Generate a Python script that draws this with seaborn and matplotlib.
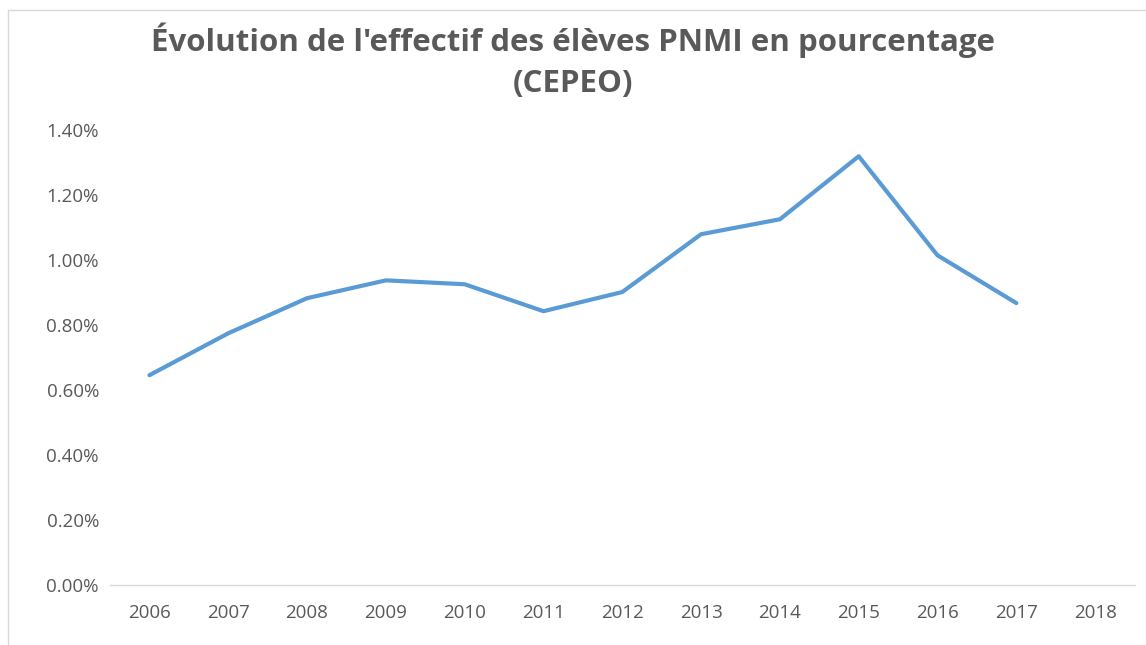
import matplotlib
matplotlib.use("Agg")
import matplotlib.pyplot as plt
import seaborn as sns
import pandas as pd
import numpy as np
from matplotlib.ticker import FuncFormatter
from matplotlib.lines import Line2D

years = [2006, 2007, 2008, 2009, 2010, 2011, 2012, 2013, 2014, 2015, 2016, 2017, 2018]
pct = [0.646, 0.775, 0.883, 0.938, 0.926, 0.843, 0.902, 1.080, 1.126, 1.320, 1.015, 0.868, np.nan]
yticks = [0.0, 0.2, 0.4, 0.6, 0.8, 1.0, 1.2, 1.4]

df = pd.DataFrame({"year": years, "pct": pct})

sns.set_theme(style="white")
plt.rcParams['font.family'] = ['Open Sans', 'DejaVu Sans']

grey = "#595959"
fig = plt.figure(figsize=(11.46, 6.45), dpi=100)
ax = fig.add_axes([0.096, 0.093, 0.894, 0.705])

sns.lineplot(data=df.dropna(), x="year", y="pct", ax=ax, color="#5B9BD5", linewidth=3.0)

ax.set_xlim(years[0] - 0.5, years[-1] + 0.5)
ax.set_ylim(0, 1.4)
ax.set_xticks(years)
ax.set_xticklabels([str(y) for y in years])
ax.set_yticks(yticks)
ax.yaxis.set_major_formatter(FuncFormatter(lambda v, p: f"{v:.2f}%"))
ax.tick_params(axis="both", colors=grey, labelsize=13.5, length=0)
ax.tick_params(axis="x", pad=14)
ax.tick_params(axis="y", pad=8)
ax.set_xlabel("")
ax.set_ylabel("")
for s in ["top", "right", "left"]:
    ax.spines[s].set_visible(False)
ax.spines["bottom"].set_color("#D9D9D9")
ax.spines["bottom"].set_linewidth(1.0)

fig.text(0.5, 1 - 40/645, "Évolution de l'effectif des élèves PNMI en pourcentage",
         ha="center", va="center", fontsize=22.5, fontweight="bold", color=grey)
fig.text(0.5, 1 - 84/645, "(CEPEO)", ha="center", va="center", fontsize=22.5,
         fontweight="bold", color=grey)

# chart border
fig.add_artist(Line2D([8/1146, 8/1146], [0, 1 - 10/645], transform=fig.transFigure, color="#D9D9D9", lw=1))
fig.add_artist(Line2D([8/1146, 1], [1 - 10/645, 1 - 10/645], transform=fig.transFigure, color="#D9D9D9", lw=1))

fig.savefig("out.png", dpi=100)
